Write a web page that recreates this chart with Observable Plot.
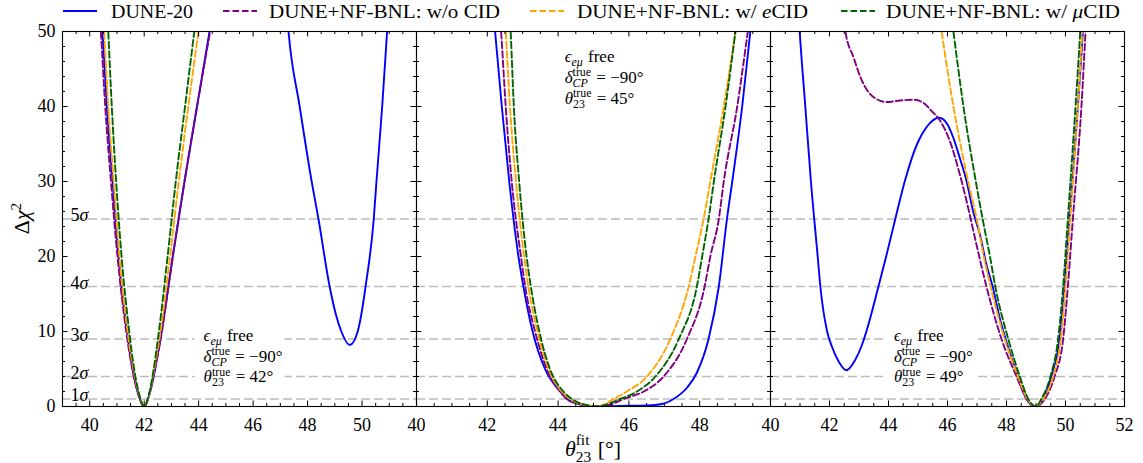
<!DOCTYPE html>
<html><head><meta charset="utf-8">
<script src="https://cdn.jsdelivr.net/npm/d3@7"></script>
<script src="https://cdn.jsdelivr.net/npm/@observablehq/plot@0.6"></script>
<style>
html,body{margin:0;padding:0;background:#fff;}
#fig{position:relative;width:1143px;height:463px;overflow:hidden;background:#fff;}
#fig > svg{position:absolute;top:0;}
</style></head><body><div id="fig"></div>
<script>
// ---- series ----
const seriesNames = ["DUNE-20", "DUNE+NF-BNL: w/o CID", "DUNE+NF-BNL: w/ eCID", "DUNE+NF-BNL: w/ μCID"];
const seriesColors = ["#0000ff", "#800080", "#ffa500", "#006400"];

// ---- panel 1: theta23 true = 42 ----
const p1Dune20 = [[40.30,60],[40.47,50],[40.63,40],[40.84,30],[41.06,20],[41.37,10],[41.58,5],[41.76,2],[42.0,0],[42.22,2],[42.40,5],[42.64,10],[43.05,20],[43.48,30],[43.94,40],[44.40,50],[44.85,60],[46.9,65],[47.10,60],[47.30,50],[47.71,40],[48.15,30],[48.40,25],[48.81,16],[49.06,12],[49.24,10],[49.55,8.2],[49.84,10],[49.96,12],[50.13,16],[50.43,25],[50.53,30],[50.74,40],[50.92,50],[51.1,60]];
const p1WoCID = [[40.25,60],[40.41,50],[40.57,40],[40.78,30],[41.02,20],[41.34,10],[41.56,5],[41.75,2],[42.0,0],[42.22,2],[42.40,5],[42.65,10],[43.05,20],[43.48,30],[43.94,40],[44.42,50],[44.88,60]];
const p1ECID = [[40.38,60],[40.53,50],[40.68,40],[40.88,30],[41.09,20],[41.39,10],[41.60,5],[41.78,2],[42.0,0],[42.21,2],[42.37,5],[42.60,10],[42.95,20],[43.27,30],[43.62,40],[43.99,50],[44.35,60]];
const p1MuCID = [[40.55,60],[40.68,50],[40.81,40],[40.97,30],[41.17,20],[41.45,10],[41.63,5],[41.79,2],[42.0,0],[42.20,2],[42.35,5],[42.54,10],[42.86,20],[43.16,30],[43.50,40],[43.84,50],[44.18,60]];

// ---- panel 2: theta23 true = 45 ----
const p2Dune20 = [[42.05,60],[42.22,50],[42.41,40],[42.62,30],[42.88,20],[43.02,16],[43.28,10],[43.63,5],[44.06,2],[44.25,1],[44.62,0.3],[45.0,0],[45.5,0.05],[46.0,0.1],[46.5,0.15],[46.9,0.3],[47.26,1],[47.64,2.5],[47.92,4.5],[48.25,9],[48.54,16],[48.77,25],[48.92,30],[49.20,40],[49.43,50],[49.65,60]];
const p2WoCID = [[42.22,60],[42.39,50],[42.52,40],[42.69,30],[42.95,20],[43.07,16],[43.35,10],[43.68,5],[44.06,2],[44.25,1],[44.7,0.2],[45.1,0],[45.5,0.3],[45.85,1],[46.42,2],[46.98,4],[47.64,9],[48.14,16],[48.30,20],[48.54,25],[48.68,30],[49.06,40],[49.36,50],[49.65,60]];
const p2ECID = [[42.38,60],[42.52,50],[42.64,40],[42.81,30],[43.04,20],[43.16,16],[43.42,10],[43.73,5],[44.10,2],[44.34,1],[44.75,0.2],[45.1,0],[45.57,1],[45.94,2],[46.51,4],[47.17,9],[47.69,16],[47.88,20],[48.11,25],[48.30,30],[48.68,40],[49.01,50],[49.3,60]];
const p2MuCID = [[42.55,60],[42.66,50],[42.75,40],[42.90,30],[43.11,20],[43.23,16],[43.47,10],[43.77,5],[44.15,2],[44.39,1],[44.8,0.2],[45.1,0],[45.75,1],[46.23,2],[46.75,4],[47.41,9],[47.92,16],[48.07,20],[48.25,25],[48.40,30],[48.73,40],[49.01,50],[49.28,60]];

// ---- panel 3: theta23 true = 49 ----
const p3Dune20 = [[40.85,60],[40.99,50],[41.18,40],[41.37,30],[41.60,20],[41.69,16],[41.92,10],[42.08,8],[42.31,6],[42.57,4.84],[42.87,6.2],[43.10,8.2],[43.25,10],[43.66,16],[43.92,20],[44.23,25],[44.55,30],[44.97,35],[45.30,37.3],[45.72,38.5],[46.0,37.6],[46.2,35.8],[46.42,33.1],[46.65,30],[46.87,26],[47.10,22.9],[47.32,18.9],[47.53,16],[47.77,11.8],[47.97,9],[48.39,4],[48.68,1],[48.96,0],[49.24,1],[49.52,4],[49.80,9],[49.97,16],[50.14,25],[50.42,40],[50.59,50],[50.75,60]];
const p3WoCID = [[42.35,60],[42.54,50],[42.82,46.5],[43.04,44.0],[43.27,42.2],[43.55,41.1],[43.94,40.6],[44.39,40.8],[44.85,40.9],[45.18,40.5],[45.46,39.4],[45.75,38.1],[46.08,35.4],[46.42,30.9],[46.70,26.5],[46.93,22.5],[47.32,16],[47.83,9],[48.34,4],[48.68,1],[49.0,0],[49.30,1],[49.63,4],[49.92,9],[50.08,16],[50.25,25],[50.54,40],[50.68,50],[50.82,60]];
const p3ECID = [[45.45,60],[45.80,50],[46.20,40],[46.70,30],[46.99,25],[47.23,20],[47.46,16],[47.94,9],[48.39,4],[48.71,1],[49.0,0],[49.24,1],[49.58,4],[49.84,9],[50.0,16],[50.16,25],[50.42,40],[50.57,50],[50.71,60]];
const p3MuCID = [[45.88,60],[46.20,50],[46.54,40],[46.96,30],[47.19,25],[47.44,20],[47.62,16],[48.06,9],[48.45,4],[48.74,1],[49.0,0],[49.18,1],[49.49,4],[49.75,9],[49.92,16],[50.08,25],[50.34,40],[50.50,50],[50.64,60]];

// ---- axes / reference levels ----
const panelDomains = [[39, 52], [40, 50], [40, 52]];
const panelTickLabels = [[40,42,44,46,48,50], [40,42,44,46,48], [40,42,44,46,48,50,52]];
const yTickLabels = [0, 10, 20, 30, 40, 50];
const sigmaLevels = [1, 4, 9, 16, 25];
const sigmaLabels = ["1", "2", "3", "4", "5"];
const trueTheta = ["42°", "45°", "49°"];
const trueDelta = "−90°";

const panelSeries = [
  [p1Dune20, p1WoCID, p1ECID, p1MuCID],
  [p2Dune20, p2WoCID, p2ECID, p2MuCID],
  [p3Dune20, p3WoCID, p3ECID, p3MuCID]
];

// ---- layout ----
const FONT = "Liberation Serif, DejaVu Serif, serif";
const H = 463, MT = 31, MB = 57, PW = 354, PH = H - MT - MB;
const panelLeft = [0, 416, 770];
const panelWidth = [416, 354, 373];
const panelML = [62, 0, 0];
const panelMR = [0, 0, 19];
const annY = [[8.67, 5.93, 3.2], [45.9, 43.1, 40.3], [8.67, 5.93, 3.2]];
const annX = 44.2;

const fig = document.getElementById("fig");

function rich(sel, x, y, parts, fs, supK = 0.38, subK = 0.25) {
  const g = sel.append("g").attr("font-family", FONT).attr("fill", "black");
  let cx = x;
  for (const p of parts) {
    if (p.t !== undefined) {
      const t = g.append("text").attr("x", cx).attr("y", y).attr("font-size", fs)
        .attr("font-style", p.i ? "italic" : "normal").attr("xml:space", "preserve").style("white-space", "pre").text(p.t);
      cx += t.node().getComputedTextLength();
    } else {
      let w = 0;
      if (p.sup) {
        const t = g.append("text").attr("x", cx).attr("y", y - fs * supK).attr("font-size", fs * 0.7)
          .attr("font-style", p.supI ? "italic" : "normal").text(p.sup);
        w = Math.max(w, t.node().getComputedTextLength());
      }
      if (p.sub) {
        const t = g.append("text").attr("x", cx).attr("y", y + fs * subK).attr("font-size", fs * 0.7)
          .attr("font-style", p.subI ? "italic" : "normal").text(p.sub);
        w = Math.max(w, t.node().getComputedTextLength());
      }
      cx += w + 1;
    }
  }
  return {g, width: cx - x};
}

const scales = [];
panelSeries.forEach((series, i) => {
  const [x0, x1] = panelDomains[i];
  const xMajor = d3.range(Math.ceil(x0 / 2) * 2, x1 + 0.001, 2);
  const xMinor = d3.range(x0, x1 + 0.001, 0.5).filter(v => v % 2 !== 0);
  const yMinor = d3.range(2, 50, 2).filter(v => v % 10 !== 0);
  const tickStyle = {stroke: "black", strokeWidth: 1};
  const marks = [
    Plot.ruleY(sigmaLevels, {stroke: "#bcbcbc", strokeWidth: 1.5, strokeDasharray: "9,4"}),
    ...series.map((s, k) => Plot.line(s, {
      x: d => d[0], y: d => d[1], stroke: seriesColors[k], strokeWidth: 1.9,
      strokeDasharray: k === 0 ? null : "6.5,3", curve: "monotone-x", clip: true
    })),
    Plot.tickX(xMajor, {x: d => d, insetTop: PH - 5.5, ...tickStyle}),
    Plot.tickX(xMinor, {x: d => d, insetTop: PH - 3, ...tickStyle}),
    Plot.tickX(xMajor, {x: d => d, insetBottom: PH - 5.5, ...tickStyle}),
    Plot.tickX(xMinor, {x: d => d, insetBottom: PH - 3, ...tickStyle}),
    Plot.tickY(yTickLabels, {y: d => d, insetRight: PW - 5.5, ...tickStyle}),
    Plot.tickY(yMinor, {y: d => d, insetRight: PW - 3, ...tickStyle}),
    Plot.tickY(yTickLabels, {y: d => d, insetLeft: PW - 5.5, ...tickStyle}),
    Plot.tickY(yMinor, {y: d => d, insetLeft: PW - 3, ...tickStyle}),
    Plot.frame({stroke: "black", strokeWidth: 1.1}),
    Plot.axisX(panelTickLabels[i], {tickSize: 0, tickPadding: 12, fontSize: 18, label: null, tickFormat: d => String(d)})
  ];
  if (i === 0) {
    const sigmaRows = sigmaLevels.map((v, j) => ({v, n: sigmaLabels[j]}));
    marks.push(
      Plot.axisY(yTickLabels, {tickSize: 0, tickPadding: 7, fontSize: 18, label: null, tickFormat: d => String(d)}),
      Plot.text(sigmaRows, {y: "v", text: "n", frameAnchor: "left", dx: 8, dy: 2, textAnchor: "start", lineAnchor: "bottom", fontSize: 18}),
      Plot.text(sigmaRows, {y: "v", text: () => "σ", frameAnchor: "left", dx: 17, dy: 2, textAnchor: "start", lineAnchor: "bottom", fontSize: 18, fontStyle: "italic"})
    );
  }
  const plot = Plot.plot({
    width: panelWidth[i], height: H,
    marginTop: MT, marginBottom: MB, marginLeft: panelML[i], marginRight: panelMR[i],
    x: {domain: [x0, x1], axis: null},
    y: {domain: [0, 50], axis: null},
    style: {background: "transparent", overflow: "visible", fontFamily: FONT, color: "black"},
    marks
  });
  plot.style.left = panelLeft[i] + "px";
  fig.appendChild(plot);
  scales.push({x: plot.scale("x"), y: plot.scale("y")});
});

// ---- overlay: annotations, legend and axis titles ----
const ov = d3.select(fig).append("svg").attr("width", 1143).attr("height", 463)
  .style("position", "absolute").style("left", "0px").style("top", "0px").style("pointer-events", "none");

scales.forEach((sc, i) => {
  const ax = panelLeft[i] + sc.x.apply(annX);
  const ys = annY[i].map(v => sc.y.apply(v));
  const box = ov.append("rect").attr("fill", "white");
  const fs = 17;
  const l1 = rich(ov, ax, ys[0], [{t: "ϵ", i: true}, {sub: "eμ", subI: true}, {t: " free"}], fs);
  const l2 = rich(ov, ax, ys[1], [{t: "δ", i: true}, {sup: "true", sub: "CP", subI: true}, {t: " = " + trueDelta}], fs);
  const l3 = rich(ov, ax, ys[2], [{t: "θ", i: true}, {sup: "true", sub: "23"}, {t: " = " + trueTheta[i]}], fs);
  const w = Math.max(l1.width, l2.width, l3.width);
  box.attr("x", ax - 9).attr("y", ys[0] - 16).attr("width", w + 11).attr("height", ys[2] - ys[0] + 25);
});

const legendPos = [[63, 111, 82], [223, 269, 231], [530, 577, 231], [841, 886, 234]];
seriesNames.forEach((name, k) => {
  const [lx, tx, tw] = legendPos[k];
  ov.append("line").attr("x1", lx).attr("x2", lx + 34).attr("y1", 11).attr("y2", 11)
    .attr("stroke", seriesColors[k]).attr("stroke-width", 2)
    .attr("stroke-dasharray", k === 0 ? null : "6.5,3");
  const t = ov.append("text").attr("x", tx).attr("y", 17.5).attr("font-family", FONT).attr("font-size", 19)
    .attr("fill", "black").attr("textLength", tw).attr("lengthAdjust", "spacingAndGlyphs").style("white-space", "pre");
  if (k < 2) t.text(name);
  else {
    t.append("tspan").text("DUNE+NF-BNL: w/ ");
    t.append("tspan").attr("font-style", "italic").text(k === 2 ? "e" : "μ");
    t.append("tspan").text("CID");
  }
});

// x title
const xt = rich(ov, 0, 456, [{t: "θ", i: true}, {sup: "fit", sub: "23"}, {t: " [°]"}], 22, 0.5, 0.25);
xt.g.attr("transform", `translate(${593 - xt.width / 2},0)`);

// y title
const yg = ov.append("g").attr("transform", "translate(29,218) rotate(-90)");
const yt = rich(yg, 0, 0, [{t: "Δ"}, {t: "χ", i: true}, {sup: "2"}], 22);
yt.g.attr("transform", `translate(${-yt.width / 2},0)`);
</script>
</body></html>
